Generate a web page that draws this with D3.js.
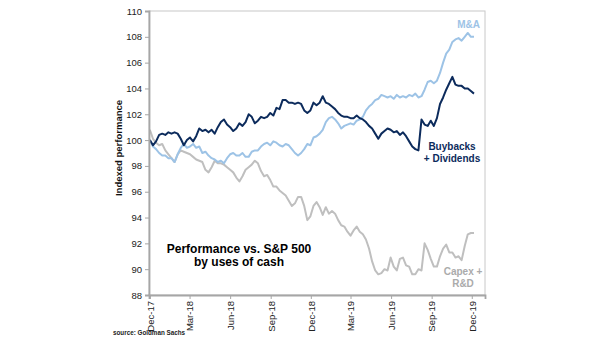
<!DOCTYPE html>
<html>
<head>
<meta charset="utf-8">
<script src="https://cdn.jsdelivr.net/npm/d3@7"></script>
<style>
  html, body { margin: 0; padding: 0; background: #fff; }
  svg { display: block; font-family: "Liberation Sans", Arial, sans-serif; }
</style>
</head>
<body>
<svg id="chart" width="605" height="341"></svg>
<script>
// ---- Data (weekly observations starting 1 Dec 2017) ----
const startDate = "2017-12-01";
const buybacksDividends = [100.0,99.6,99.9,100.4,100.5,100.4,100.6,100.5,100.6,100.5,100.1,99.6,100.0,100.2,99.9,100.3,100.9,100.7,100.8,100.6,100.8,100.5,101.0,101.4,101.6,101.2,101.0,100.7,100.9,101.3,101.1,101.4,102.0,101.8,101.3,101.5,101.8,101.7,101.8,102.1,101.9,102.5,102.4,103.1,103.1,102.9,102.9,102.8,102.9,102.8,102.3,102.1,102.3,102.9,102.7,102.9,103.4,102.9,102.8,102.6,102.4,102.1,101.9,101.8,101.8,101.7,101.7,101.9,101.7,101.6,101.4,101.1,100.9,100.5,100.1,100.5,100.7,100.9,100.8,100.6,100.7,100.4,100.6,100.3,99.9,99.5,99.3,99.2,101.6,101.2,101.1,101.5,101.1,101.7,102.8,103.3,103.9,104.4,104.9,104.3,104.2,104.2,104.0,104.0,103.8,103.6];
const mergersAcquisitions = [100.0,99.5,99.3,99.0,98.8,98.8,98.6,98.6,98.3,98.9,99.4,99.7,99.4,99.5,99.7,99.4,99.5,99.0,99.1,98.8,98.6,98.5,98.3,98.4,98.2,98.6,98.9,99.0,98.8,98.8,99.0,98.7,98.7,99.1,99.2,99.2,99.5,99.7,99.8,99.6,99.9,99.8,99.6,99.5,99.7,99.6,99.3,99.0,98.8,99.0,99.3,99.7,99.6,100.2,100.3,100.5,100.8,101.4,101.7,101.8,101.6,101.3,100.9,101.1,101.2,101.3,101.2,101.5,101.6,101.8,102.3,102.6,102.8,103.1,103.2,103.5,103.4,103.3,103.4,103.2,103.5,103.3,103.4,103.3,103.5,103.4,103.6,103.3,103.4,103.9,104.5,104.6,104.4,104.6,105.2,106.0,106.7,107.0,107.6,107.8,107.9,107.7,108.0,108.3,108.0,108.0];
const capexRnD = [100.8,100.1,99.8,99.6,99.7,99.2,98.9,98.6,98.3,98.9,99.2,99.1,99.0,98.9,98.7,98.5,98.4,98.3,97.7,97.5,97.9,98.4,98.2,98.2,98.1,97.9,97.7,97.5,97.1,96.8,97.2,97.7,97.9,98.1,98.4,98.2,97.6,97.2,97.3,96.9,96.4,96.4,96.1,95.9,95.7,95.3,94.9,95.1,95.6,95.6,94.9,93.8,94.1,94.9,95.2,94.8,94.2,94.8,94.3,94.5,94.3,93.8,93.4,93.3,92.9,92.6,93.0,93.3,92.9,92.7,92.3,91.6,90.6,89.9,89.6,89.7,90.0,89.9,90.9,90.2,89.9,90.8,90.9,90.3,90.2,89.6,89.6,90.0,89.9,92.0,91.5,90.8,90.2,90.2,91.0,91.6,91.9,91.3,91.3,90.9,91.0,90.7,91.8,92.7,92.8,92.8];

const xTickDates = ["2017-12-01","2018-03-01","2018-06-01","2018-09-01","2018-12-01","2019-03-01","2019-06-01","2019-09-01","2019-12-01"];
const xTickLabels = ["Dec-17","Mar-18","Jun-18","Sep-18","Dec-18","Mar-19","Jun-19","Sep-19","Dec-19"];
const yTicks = [88,90,92,94,96,98,100,102,104,106,108,110];

const seriesNames = ["Capex + R&D", "M&A", "Buybacks + Dividends"];
const seriesColors = ["#BFBFBF", "#9DC3E6", "#0C2B5C"];

// ---- Layout ----
const svg = d3.select("#chart");
const parse = d3.utcParse("%Y-%m-%d");
const plot = { left: 149, right: 485, top: 11, bottom: 295 };

const x = d3.scaleUtc()
  .domain([parse("2017-11-29"), parse("2019-12-31")])
  .range([plot.left, plot.right]);
const y = d3.scaleLinear().domain([88, 110]).range([plot.bottom, plot.top]);

const t0 = parse(startDate);
const dates = buybacksDividends.map((_, i) => d3.utcWeek.offset(t0, i));

// frame (top/right)
svg.append("rect")
  .attr("x", plot.left).attr("y", plot.top)
  .attr("width", plot.right - plot.left).attr("height", plot.bottom - plot.top)
  .attr("fill", "none").attr("stroke", "#C8C8C8").attr("stroke-width", 1);

// series lines
const line = d3.line().x((d, i) => x(dates[i])).y(d => y(d)).curve(d3.curveLinear);
const allSeries = [capexRnD, mergersAcquisitions, buybacksDividends];
allSeries.forEach((s, k) => {
  svg.append("path").datum(s)
    .attr("d", line)
    .attr("fill", "none")
    .attr("stroke", seriesColors[k])
    .attr("stroke-width", 2)
    .attr("stroke-linejoin", "round");
});

// Y axis
const yAxis = svg.append("g")
  .attr("transform", `translate(${plot.left},0)`)
  .call(d3.axisLeft(y).tickValues(yTicks).tickSize(4).tickPadding(3).tickFormat(d3.format("d")));
yAxis.select(".domain").attr("stroke", "#A6A6A6").attr("stroke-width", 1.8);
yAxis.selectAll(".tick line").attr("stroke", "#A6A6A6");
yAxis.selectAll(".tick text").attr("font-size", 9.5).attr("fill", "#222")
  .attr("font-family", "Liberation Sans, Arial, sans-serif");

// X axis
const xAxis = svg.append("g")
  .attr("transform", `translate(0,${plot.bottom})`)
  .call(d3.axisBottom(x).tickValues(xTickDates.map(parse)).tickSize(4)
    .tickFormat((d, i) => xTickLabels[i]));
xAxis.select(".domain").attr("stroke", "#A6A6A6").attr("stroke-width", 1.8);
xAxis.selectAll(".tick line").attr("stroke", "#A6A6A6");
xAxis.selectAll(".tick text")
  .attr("font-size", 9.5).attr("fill", "#222")
  .attr("font-family", "Liberation Sans, Arial, sans-serif")
  .attr("text-anchor", "end")
  .attr("transform", "rotate(-90)")
  .attr("x", -6).attr("y", 0).attr("dy", "0.35em");

// Y axis title
svg.append("text")
  .attr("transform", "translate(122,148) rotate(-90)")
  .attr("text-anchor", "middle")
  .attr("font-size", 9.5).attr("font-weight", "bold").attr("fill", "#111")
  .text("Indexed performance");

// chart title inside plot
const title = svg.append("text")
  .attr("text-anchor", "middle").attr("font-size", 12).attr("font-weight", "bold").attr("fill", "#000");
title.append("tspan").attr("x", 239).attr("y", 253).text("Performance vs. S&P 500");
title.append("tspan").attr("x", 239).attr("y", 266).text("by uses of cash");

// series labels
svg.append("text")
  .attr("x", 480).attr("y", 28).attr("text-anchor", "end")
  .attr("font-size", 10).attr("font-weight", "bold").attr("fill", seriesColors[1])
  .text("M&A");

const bb = svg.append("text").attr("text-anchor", "middle")
  .attr("font-size", 10).attr("font-weight", "bold").attr("fill", seriesColors[2]);
bb.append("tspan").attr("x", 452).attr("y", 150).text("Buybacks");
bb.append("tspan").attr("x", 452).attr("y", 162).text("+ Dividends");

const cx = svg.append("text").attr("text-anchor", "middle")
  .attr("font-size", 10).attr("font-weight", "bold").attr("fill", "#ABABAB");
cx.append("tspan").attr("x", 463).attr("y", 275).text("Capex +");
cx.append("tspan").attr("x", 463).attr("y", 287).text("R&D");

// source
svg.append("text")
  .attr("x", 113).attr("y", 335)
  .attr("font-size", 6.3).attr("font-weight", "bold").attr("fill", "#222")
  .text("source: Goldman Sachs");
</script>
</body>
</html>
